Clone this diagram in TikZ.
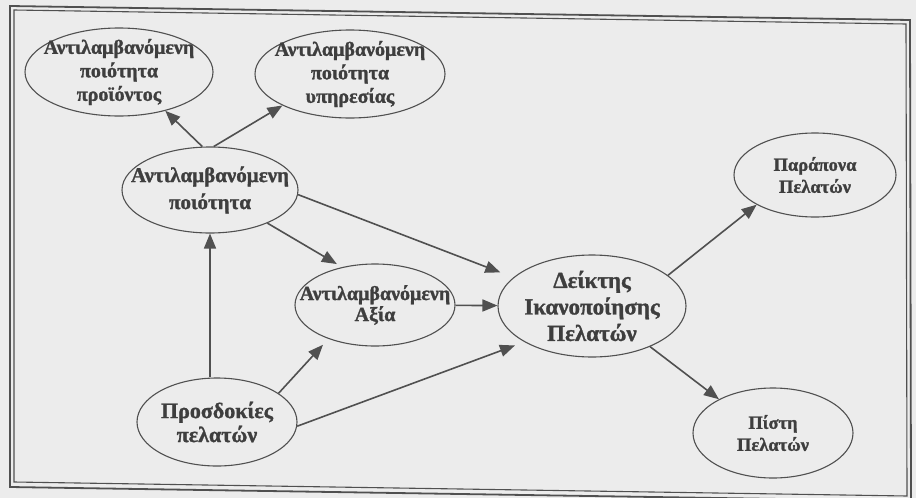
\documentclass[tikz,border=0pt]{standalone}
\usepackage{fontspec}
\setmainfont{Liberation Serif}
\newfontfamily\grbold{Liberation Serif Bold}[FakeBold=1.3]
\usetikzlibrary{shapes.geometric, arrows.meta}
\definecolor{bgcol}{HTML}{ECECEC}
\definecolor{linecol}{HTML}{505050}
\definecolor{textcol}{HTML}{3E3E3E}
\newcommand{\fsz}[2]{\grbold\fontsize{#1}{#2}\selectfont}
\begin{document}
\begin{tikzpicture}[x=1pt, y=-1pt,
    oval/.style = {draw=linecol, line width=1.1pt, ellipse, inner sep=-40pt,
                   text=textcol, align=center},
    arr/.style = {draw=linecol, line width=1.6pt, -{Triangle[length=15pt, width=12pt]}}]
  \fill[bgcol] (0,0) rectangle (916,498);
  \useasboundingbox (0,0) rectangle (916,498);
  % double frame
  \draw[linecol, line width=1.8pt] (10,6) -- (910,20) -- (911,501) -- (10,487) -- cycle;
  \draw[linecol, line width=1.1pt] (14,10) -- (906,24) -- (907,496) -- (14,482) -- cycle;
  % ellipses
  \node[oval, minimum width=188pt, minimum height=88pt, font=\fsz{20}{23.5}] (prod) at (119,72) {Αντιλαμβανόμενη\\ποιότητα\\προϊόντος};
  \node[oval, minimum width=190pt, minimum height=88pt, font=\fsz{20}{23.5}] (serv) at (350,74) {Αντιλαμβανόμενη\\ποιότητα\\υπηρεσίας};
  \node[oval, minimum width=176pt, minimum height=86pt, font=\fsz{21}{27}] (perq) at (210,190) {Αντιλαμβανόμενη\\ποιότητα};
  \node[oval, minimum width=160pt, minimum height=82pt, font=\fsz{20}{21}] (value) at (375,305) {Αντιλαμβανόμενη\\Αξία};
  \node[oval, minimum width=188pt, minimum height=102pt, font=\fsz{23}{26.5}] (csi) at (592,306) {Δείκτης\\Ικανοποίησης\\Πελατών};
  \node[oval, minimum width=160pt, minimum height=88pt, font=\fsz{22}{24}] (exp) at (217,422) {Προσδοκίες\\πελατών};
  \node[oval, minimum width=162pt, minimum height=84pt, font=\fsz{18.5}{22}] (compl) at (815,175) {Παράπονα\\Πελατών};
  \node[oval, minimum width=160pt, minimum height=90pt, font=\fsz{18.5}{22}] (loyal) at (773,433) {Πίστη\\Πελατών};
  % arrows
  \draw[arr] (perq.100) -- (prod.-40);
  \draw[arr] (perq.85) -- (serv.205);
  \draw[arr, shorten >=14pt] (perq.-3) -- (csi.160);
  \draw[arr, shorten >=6pt] (perq.-30) -- (value.131);
  \draw[arr] (value) -- (csi);
  \draw[arr] (exp.north -| perq.south) -- (perq.south);
  \draw[arr, shorten >=8pt] (exp.25) -- (value.216);
  \draw[arr, shorten >=10pt] (exp.-3) -- (csi.208);
  \draw[arr] (csi.22) -- (compl.207);
  \draw[arr] (csi.-35) -- (loyal.148);
\end{tikzpicture}
\end{document}
